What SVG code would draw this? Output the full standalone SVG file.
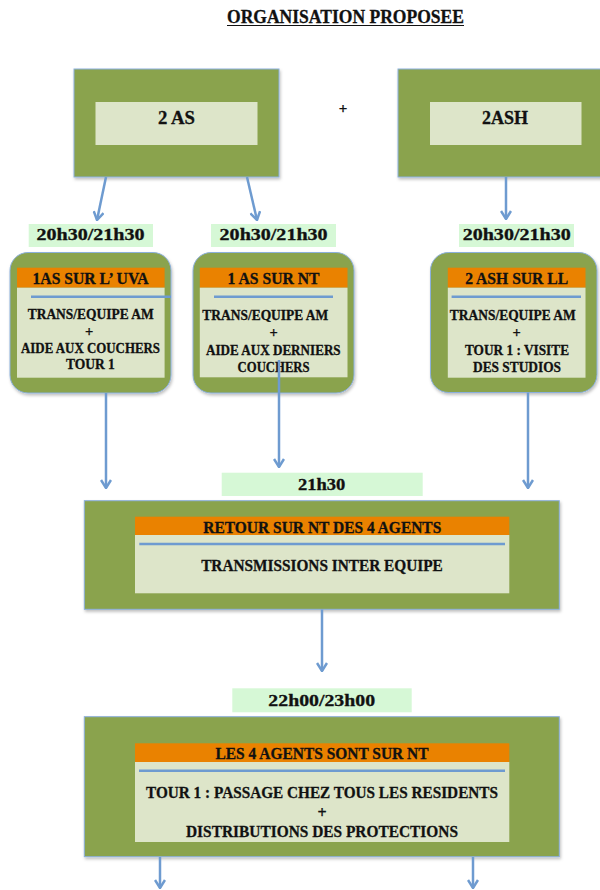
<svg xmlns="http://www.w3.org/2000/svg" width="600" height="890" viewBox="0 0 600 890">
<defs>
<style>
.t{font-family:"Liberation Serif","Times New Roman",serif;font-weight:bold;fill:#111;stroke:#111;stroke-width:0.3;text-anchor:middle}
.outer{fill:#8AA34E;stroke:#8CB0DC;stroke-width:1}
.light{fill:#DDE5C9}
.hdr{fill:#EA8200}
.tl{fill:#D6F8D6}
.sep{stroke:#6E9BD0;stroke-width:2.5}
.con{stroke:#6E9BD0;stroke-width:2.5;fill:none;marker-end:url(#ah)}
</style>
<marker id="ah" viewBox="0 0 10 12" refX="9" refY="6" markerWidth="10" markerHeight="12" markerUnits="userSpaceOnUse" orient="auto">
<path d="M1,1 L9,6 L1,11" fill="none" stroke="#6E9BD0" stroke-width="2.5"/>
</marker>
<filter id="sh" x="-5%" y="-5%" width="112%" height="115%">
<feDropShadow dx="1" dy="2" stdDeviation="1.5" flood-color="#000" flood-opacity="0.25"/>
</filter>
</defs>
<rect width="600" height="890" fill="#fff"/>

<g id="title">
<text class="t" x="345.5" y="23" font-size="18" textLength="237" lengthAdjust="spacingAndGlyphs">ORGANISATION PROPOSEE</text>
<line x1="227" y1="25.5" x2="464" y2="25.5" stroke="#111" stroke-width="1.2"/>
</g>

<g id="n-2as">
<rect class="outer" x="74" y="69" width="205" height="108" filter="url(#sh)"/>
<rect class="light" x="95.5" y="102" width="162" height="43"/>
<text class="t" x="176.5" y="124" font-size="18" textLength="37" lengthAdjust="spacingAndGlyphs">2 AS</text>
</g>

<g id="plus">
<text class="t" x="343" y="113" font-size="15">+</text>
</g>

<g id="n-2ash">
<rect class="outer" x="398" y="69" width="206" height="108" filter="url(#sh)"/>
<rect class="light" x="430" y="102" width="151.5" height="43"/>
<text class="t" x="505" y="124" font-size="18" textLength="46" lengthAdjust="spacingAndGlyphs">2ASH</text>
</g>

<g id="lbl-1">
<rect class="tl" x="28.7" y="224" width="124.3" height="23"/>
<text class="t" x="90.5" y="240" font-size="16" textLength="108" lengthAdjust="spacingAndGlyphs">20h30/21h30</text>
</g>
<g id="lbl-2">
<rect class="tl" x="211" y="224" width="125" height="23"/>
<text class="t" x="273.6" y="240" font-size="16" textLength="108" lengthAdjust="spacingAndGlyphs">20h30/21h30</text>
</g>
<g id="lbl-3">
<rect class="tl" x="459" y="224" width="115" height="23"/>
<text class="t" x="516.7" y="240" font-size="16" textLength="108" lengthAdjust="spacingAndGlyphs">20h30/21h30</text>
</g>

<g id="n-uva">
<rect class="outer" x="10" y="252.5" width="161" height="140.5" rx="18" filter="url(#sh)"/>
<rect class="hdr" x="17" y="267.7" width="147.6" height="20"/>
<rect class="light" x="17" y="287.7" width="147.6" height="90"/>
<text class="t" x="90.5" y="284" font-size="17" textLength="116" lengthAdjust="spacingAndGlyphs">1AS SUR L’ UVA</text>
<line class="sep" x1="31" y1="296.7" x2="171" y2="296.7"/>
<text class="t" x="90.7" y="319" font-size="14.5" textLength="126" lengthAdjust="spacingAndGlyphs">TRANS/EQUIPE AM</text>
<text class="t" x="89.2" y="336" font-size="14.5">+</text>
<text class="t" x="90.5" y="353" font-size="14.5" textLength="139" lengthAdjust="spacingAndGlyphs">AIDE AUX COUCHERS</text>
<text class="t" x="90.4" y="369" font-size="14.5" textLength="49" lengthAdjust="spacingAndGlyphs">TOUR 1</text>
</g>

<g id="n-nt">
<rect class="outer" x="193" y="252.5" width="161" height="140.5" rx="18" filter="url(#sh)"/>
<rect class="hdr" x="199.8" y="267.7" width="147.7" height="20"/>
<rect class="light" x="199.8" y="287.7" width="147.7" height="89.6"/>
<text class="t" x="273.6" y="284" font-size="17" textLength="92" lengthAdjust="spacingAndGlyphs">1 AS SUR NT</text>
<line class="sep" x1="214" y1="296.7" x2="333" y2="296.7"/>
<text class="t" x="265.3" y="320" font-size="14.5" textLength="126" lengthAdjust="spacingAndGlyphs">TRANS/EQUIPE AM</text>
<text class="t" x="273.6" y="337" font-size="14.5">+</text>
<text class="t" x="273.3" y="355" font-size="14.5" textLength="134.7" lengthAdjust="spacingAndGlyphs">AIDE AUX DERNIERS</text>
<text class="t" x="273.6" y="371.5" font-size="14.5" textLength="72" lengthAdjust="spacingAndGlyphs">COUCHERS</text>
</g>

<g id="n-ll">
<rect class="outer" x="430.5" y="252.5" width="166.5" height="140" rx="18" filter="url(#sh)"/>
<rect class="hdr" x="447.8" y="267.7" width="137.7" height="20"/>
<rect class="light" x="447.8" y="287.7" width="137.7" height="90"/>
<text class="t" x="516.7" y="284" font-size="17" textLength="103" lengthAdjust="spacingAndGlyphs">2 ASH SUR LL</text>
<line class="sep" x1="451.6" y1="296.7" x2="581" y2="296.7"/>
<text class="t" x="512.8" y="320" font-size="14.5" textLength="126" lengthAdjust="spacingAndGlyphs">TRANS/EQUIPE AM</text>
<text class="t" x="516.6" y="337" font-size="14.5">+</text>
<text class="t" x="517" y="355" font-size="14.5" textLength="104" lengthAdjust="spacingAndGlyphs">TOUR 1 : VISITE</text>
<text class="t" x="517" y="371.5" font-size="14.5" textLength="88" lengthAdjust="spacingAndGlyphs">DES STUDIOS</text>
</g>

<g id="lbl-2130">
<rect class="tl" x="221.7" y="472.7" width="201" height="23.3"/>
<text class="t" x="321.7" y="490" font-size="16" textLength="47.3" lengthAdjust="spacingAndGlyphs">21h30</text>
</g>

<g id="n-retour">
<rect class="outer" x="84.3" y="500.7" width="475" height="108.6" filter="url(#sh)"/>
<rect class="hdr" x="135" y="516.7" width="374.3" height="18.3"/>
<rect class="light" x="135" y="535" width="374.3" height="58.3"/>
<text class="t" x="322.3" y="532.5" font-size="16" textLength="238" lengthAdjust="spacingAndGlyphs">RETOUR SUR NT DES 4 AGENTS</text>
<line class="sep" x1="139.3" y1="544" x2="505" y2="544"/>
<text class="t" x="322" y="571" font-size="16" textLength="241.7" lengthAdjust="spacingAndGlyphs">TRANSMISSIONS INTER EQUIPE</text>
</g>

<g id="lbl-2200">
<rect class="tl" x="232.3" y="688.3" width="179.4" height="24"/>
<text class="t" x="321.7" y="705.7" font-size="16" textLength="106.7" lengthAdjust="spacingAndGlyphs">22h00/23h00</text>
</g>

<g id="n-agents">
<rect class="outer" x="84.3" y="716.7" width="475" height="140" filter="url(#sh)"/>
<rect class="hdr" x="135" y="743.3" width="374.3" height="18.7"/>
<rect class="light" x="135" y="762" width="374.3" height="80"/>
<text class="t" x="322" y="759" font-size="16" textLength="213" lengthAdjust="spacingAndGlyphs">LES 4 AGENTS SONT SUR NT</text>
<line class="sep" x1="139" y1="770.7" x2="505" y2="770.7"/>
<text class="t" x="322" y="798.3" font-size="17" textLength="352" lengthAdjust="spacingAndGlyphs">TOUR 1 : PASSAGE CHEZ TOUS LES RESIDENTS</text>
<text class="t" x="322" y="818" font-size="16">+</text>
<text class="t" x="322" y="836.7" font-size="17" textLength="272" lengthAdjust="spacingAndGlyphs">DISTRIBUTIONS DES PROTECTIONS</text>
</g>

<g id="connectors">
<line class="con" x1="106" y1="177" x2="97" y2="220"/>
<line class="con" x1="247" y1="177" x2="257" y2="220"/>
<line class="con" x1="506" y1="177" x2="506" y2="219"/>
<line class="con" x1="106" y1="393" x2="106" y2="488"/>
<line class="con" x1="279" y1="360" x2="279" y2="467"/>
<line class="con" x1="528" y1="392.5" x2="528" y2="488"/>
<line class="con" x1="322" y1="609.5" x2="322" y2="671"/>
<line class="con" x1="160" y1="857" x2="160" y2="888"/>
<line class="con" x1="473" y1="857" x2="473" y2="888"/>
</g>
</svg>
